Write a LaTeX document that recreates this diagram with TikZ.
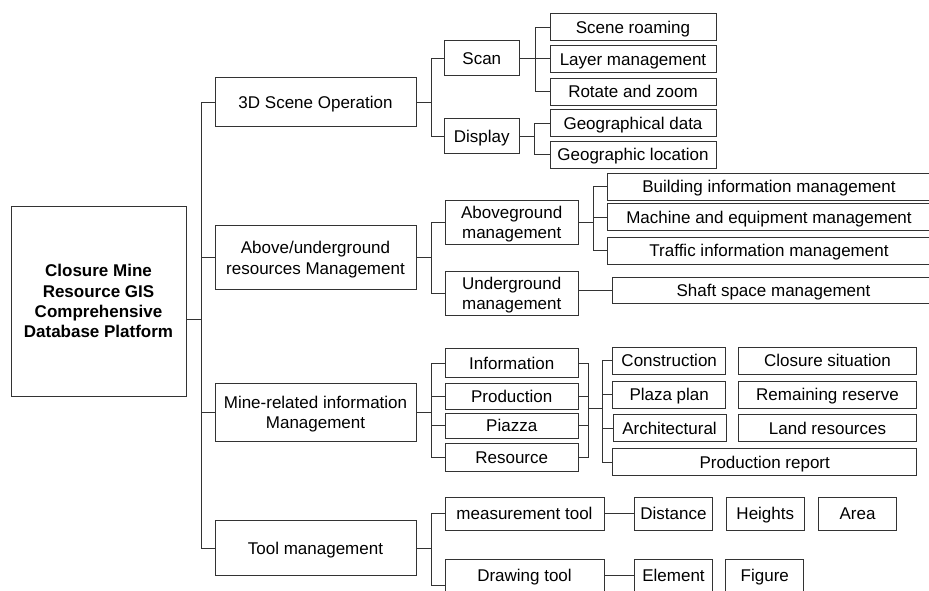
\documentclass[tikz,border=0pt]{standalone}
\usepackage{fontspec}
\setmainfont{Liberation Sans}
\usepackage{tikz}
\usetikzlibrary{calc,positioning}

\tikzset{
  tallbox/.style={draw=black!80, line width=.9pt, inner sep=0pt, align=center,
    font=\fontsize{17}{20.3}\selectfont, text depth=0pt},
  box/.style={tallbox, text height=12.2pt},
  wire/.style={draw=black!80, line width=.9pt}
}

\begin{document}
\begin{tikzpicture}[x=1pt,y=-1pt]
           \useasboundingbox (0,0) rectangle (929,590);
           \clip (0,0) rectangle (929,590);
           \node[tallbox, minimum width=175, minimum height=190, font=\fontsize{17}{20.3}\selectfont\bfseries] (root) at (98.5,301) {Closure Mine\\Resource GIS\\Comprehensive\\Database Platform};
           \node[box, minimum width=201, minimum height=49] (op3d)  at (315.5,102)   {3D Scene Operation};
           \node[tallbox, minimum width=201, minimum height=64] (above) at (315.5,257.8) {Above/underground\\resources Management};
           \node[tallbox, minimum width=201, minimum height=58] (mine)  at (315.5,412.2) {Mine-related information\\Management};
           \node[box, minimum width=201, minimum height=55] (tool)  at (315.5,548.3) {Tool management};

           \node[box, minimum width=75, minimum height=35] (scan)    at (481.8,58)    {Scan};
           \node[box, minimum width=75, minimum height=35] (display) at (481.8,136.2) {Display};
           \node[box, minimum width=166, minimum height=27] (roam)    at (633,27.2)  {Scene roaming};
           \node[box, minimum width=166, minimum height=27] (layer)   at (633,58.9)  {Layer management};
           \node[box, minimum width=166, minimum height=27] (rotate)  at (633,91.5)  {Rotate and zoom};
           \node[box, minimum width=166, minimum height=27] (geodata) at (633,123)   {Geographical data};
           \node[box, minimum width=166, minimum height=27] (geoloc)  at (633,154.8) {Geographic location};

           \node[tallbox, minimum width=133, minimum height=44] (aboveg) at (511.7,222)   {Aboveground\\management};
           \node[tallbox, minimum width=133, minimum height=44] (underg) at (511.7,293.3) {Underground\\management};
           \node[box, minimum width=324, minimum height=27] (building) at (769,186.7) {Building information management};
           \node[box, minimum width=324, minimum height=27] (machine)  at (769,217.3) {Machine and equipment management};
           \node[box, minimum width=324, minimum height=27] (traffic)  at (769,250.7) {Traffic information management};
           \node[box, minimum width=322, minimum height=26] (shaft)    at (773.5,290.3) {Shaft space management};

           \node[box, minimum width=133, minimum height=29] (info)     at (511.7,363.3) {Information};
           \node[box, minimum width=133, minimum height=26] (prod)     at (511.7,396.2) {Production};
           \node[box, minimum width=133, minimum height=25] (piazza)   at (511.7,425.7) {Piazza};
           \node[box, minimum width=133, minimum height=28] (resource) at (511.7,457)   {Resource};
           \node[box, minimum width=113, minimum height=27] (constr)   at (669.2,360.7) {Construction};
           \node[box, minimum width=178, minimum height=27] (closure)  at (827.5,360.7) {Closure situation};
           \node[box, minimum width=113, minimum height=27] (plaza)    at (669.2,394.8) {Plaza plan};
           \node[box, minimum width=178, minimum height=27] (reserve)  at (827.5,394.8) {Remaining reserve};
           \node[box, minimum width=113, minimum height=27] (arch)     at (669.5,428.3) {Architectural};
           \node[box, minimum width=178, minimum height=27] (land)     at (827.5,428.3) {Land resources};
           \node[box, minimum width=304, minimum height=27] (report)   at (764.7,462.2) {Production report};

           \node[box, minimum width=159, minimum height=33] (meas)     at (524.5,513.8) {measurement tool};
           \node[box, minimum width=159, minimum height=33] (drawtool) at (524.5,575.8) {Drawing tool};
           \node[box, minimum width=78, minimum height=33] (distance) at (673.5,513.8) {Distance};
           \node[box, minimum width=78, minimum height=33] (heights)  at (765.3,513.8) {Heights};
           \node[box, minimum width=78, minimum height=33] (area)     at (857.5,513.8) {Area};
           \node[box, minimum width=78, minimum height=33] (element)  at (673.5,575.8) {Element};
           \node[box, minimum width=78, minimum height=33] (figure)   at (764.8,575.8) {Figure};

           \foreach \c in {op3d,above,mine,tool}
             \draw[wire] ([yshift=-18pt]root.east) -- ++(15,0) |- (\c.west);
           \foreach \c in {scan,display}
             \draw[wire] (op3d.east) -- ++(14.5,0) |- (\c.west);
           \foreach \c in {roam,layer,rotate}
             \draw[wire] (scan.east) -- ++(15.5,0) |- (\c.west);
           \foreach \c in {geodata,geoloc}
             \draw[wire] (display.east) -- ++(15,0) |- (\c.west);
           \foreach \c in {aboveg,underg}
             \draw[wire] (above.east) -- ++(14.5,0) |- (\c.west);
           \foreach \c in {building,machine,traffic}
             \draw[wire] (aboveg.east) -- ++(15,0) |- (\c.west);
           \draw[wire] (underg.east |- shaft.west) -- (shaft.west);
           \foreach \c in {info,prod,piazza,resource}
             \draw[wire] (mine.east) -- ++(14.5,0) |- (\c.west);
           \coordinate (join) at (588.3,408.3);
           \foreach \c in {info,prod,piazza,resource}
             \draw[wire] (\c.east) -| (join);
           \foreach \c in {constr,plaza,arch,report}
             \draw[wire] (join) -- ++(14.4,0) |- (\c.west);
           \draw[wire] (tool.east) -- ++(15,0) |- (meas.west);
           \draw[wire] (tool.east) -- ++(15,0) |- ([yshift=-10pt]drawtool.west);
           \draw[wire] (meas) -- (distance);
           \draw[wire] (drawtool) -- (element);
\end{tikzpicture}
\end{document}
